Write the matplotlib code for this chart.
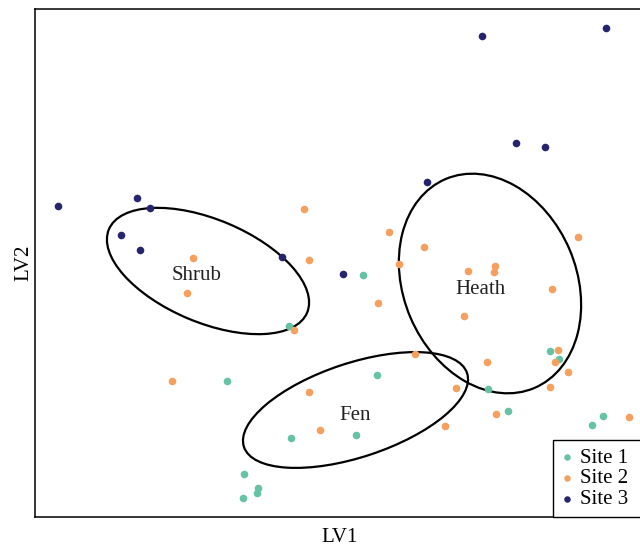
import matplotlib
matplotlib.use("Agg")
import matplotlib.pyplot as plt
from matplotlib.patches import Ellipse

plt.rcParams['font.family'] = ['Liberation Serif', 'DejaVu Serif']

# latent variable scores
site1_lv1 = [0.23, -0.51, -1.13, 0.37, -0.49, 0.16, -0.96, -0.82, -0.83, -0.97,
             2.10, 2.19, 1.48, 1.68, 2.52, 2.63]
site1_lv2 = [0.15, -0.36, -0.91, -0.85, -1.48, -1.45, -1.84, -1.98, -2.03, -2.08,
             -0.61, -0.69, -0.99, -1.21, -1.35, -1.26]

site2_lv1 = [-0.36, -1.47, -0.31, -1.53, -0.46, 0.49, 0.84, 0.59, 0.38, 1.28,
             1.55, 1.54, 2.38, 2.12, 1.24, 2.18, 2.15, 2.28, 1.47, 2.10,
             0.75, 1.16, -1.68, -0.31, -0.20, 1.05, 1.56, 2.89]
site2_lv2 = [0.81, 0.32, 0.30, -0.03, -0.40, 0.58, 0.43, 0.26, -0.13, 0.19,
             0.24, 0.18, 0.53, 0.01, -0.26, -0.60, -0.72, -0.82, -0.72, -0.97,
             -0.64, -0.98, -0.91, -1.02, -1.40, -1.36, -1.24, -1.27]

site3_lv1 = [-2.82, -2.03, -1.90, -2.19, -2.00, -0.58, 0.03, 1.42, 2.66, 1.76, 2.05, 0.87]
site3_lv2 = [0.84, 0.92, 0.82, 0.55, 0.40, 0.33, 0.16, 2.54, 2.62, 1.47, 1.43, 1.08]

# habitat ellipses: name, centre, width, height, angle
habitats = ['Shrub', 'Heath', 'Fen']
hab_centre = [(-1.32, 0.19), (1.50, 0.065), (0.155, -1.20)]
hab_width = [2.15, 1.73, 2.35]
hab_height = [1.03, 2.27, 0.94]
hab_angle = [-22.8, 23.0, 18.3]
label_pos = [(-1.43, 0.15), (1.40, 0.01), (0.15, -1.25)]

col1, col2, col3 = '#66c2a5', '#f5a05e', '#25246e'

fig = plt.figure(figsize=(6.4, 5.48), dpi=100)
ax = fig.add_axes([35/640, 31/548, 610/640, 508/548])

ax.scatter(site1_lv1, site1_lv2, s=30, color=col1, lw=0, label='Site 1', zorder=3)
ax.scatter(site2_lv1, site2_lv2, s=30, color=col2, lw=0, label='Site 2', zorder=3)
ax.scatter(site3_lv1, site3_lv2, s=30, color=col3, lw=0, label='Site 3', zorder=3)

for name, c, w, h, a, p in zip(habitats, hab_centre, hab_width, hab_height, hab_angle, label_pos):
    ax.add_patch(Ellipse(c, w, h, angle=a, fill=False, ec='black', lw=1.6, zorder=2))
    ax.text(p[0], p[1], name, fontsize=15, ha='center', va='center', color='#222222')

ax.set_xlim(-3.05, 3.05)
ax.set_ylim(-2.27, 2.81)
ax.set_xticks([])
ax.set_yticks([])
ax.spines['right'].set_visible(False)
for s in ['left', 'top', 'bottom']:
    ax.spines[s].set_linewidth(1.1)
ax.set_xlabel('LV1', fontsize=15, labelpad=8)
ax.set_ylabel('LV2', fontsize=15, labelpad=1)

leg = ax.legend(loc='lower left', bbox_to_anchor=(553/640, 31/548, 110/640, 0.1),
                bbox_transform=fig.transFigure, mode='expand',
                borderaxespad=0, fontsize=15, fancybox=False, edgecolor='black',
                framealpha=1, handlelength=0.6, handletextpad=0.3, labelspacing=0.05,
                borderpad=0.38, markerscale=0.85)
leg.get_frame().set_linewidth(1.0)

fig.savefig('out.png', dpi=100)
